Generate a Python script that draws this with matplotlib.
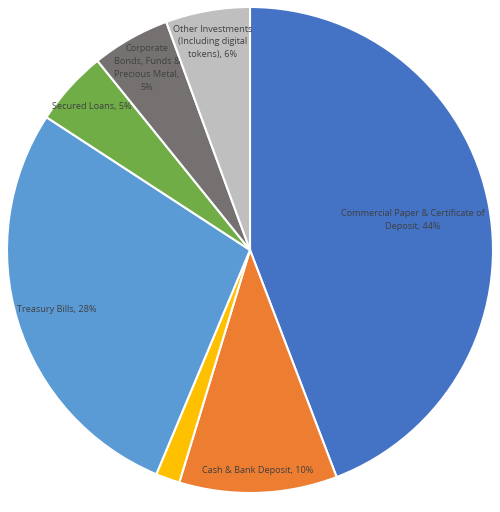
import numpy as np
import matplotlib.pyplot as plt

labels = ['Commercial Paper & Certificate of\nDeposit, 44%',
          'Cash & Bank Deposit, 10%',
          '',
          'Treasury Bills, 28%',
          'Secured Loans, 5%',
          'Corporate\nBonds, Funds &\nPrecious Metal,\n5%',
          'Other Investments\n(Including digital\ntokens), 6%']
shares = [44.2, 10.5, 1.6, 27.9, 5.0, 5.2, 5.6]
colors = ['#4472C4', '#ED7D31', '#FFC000', '#5B9BD5', '#70AD47', '#767171', '#BFBFBF']
label_dist = [0.68, 0.91, 0.9, 0.83, 0.88, 0.86, 0.87]

fig = plt.figure(figsize=(5, 5.12), dpi=100)
ax = fig.add_axes([7/500, 19/512, 486/500, 486/512])

wedges, _ = ax.pie(shares, colors=colors, startangle=90, counterclock=False,
                   radius=1, wedgeprops=dict(edgecolor='white', linewidth=1.5))

for w, lab, d in zip(wedges, labels, label_dist):
    mid = np.deg2rad((w.theta1 + w.theta2) / 2)
    ax.text(d * np.cos(mid), d * np.sin(mid), lab, ha='center', va='center',
            fontsize=6.6, family='Open Sans', color='#404040', linespacing=1.55)

ax.set_xlim(-1, 1)
ax.set_ylim(-1, 1)
ax.set_aspect('equal')
ax.axis('off')

fig.savefig('out.png', dpi=100)
